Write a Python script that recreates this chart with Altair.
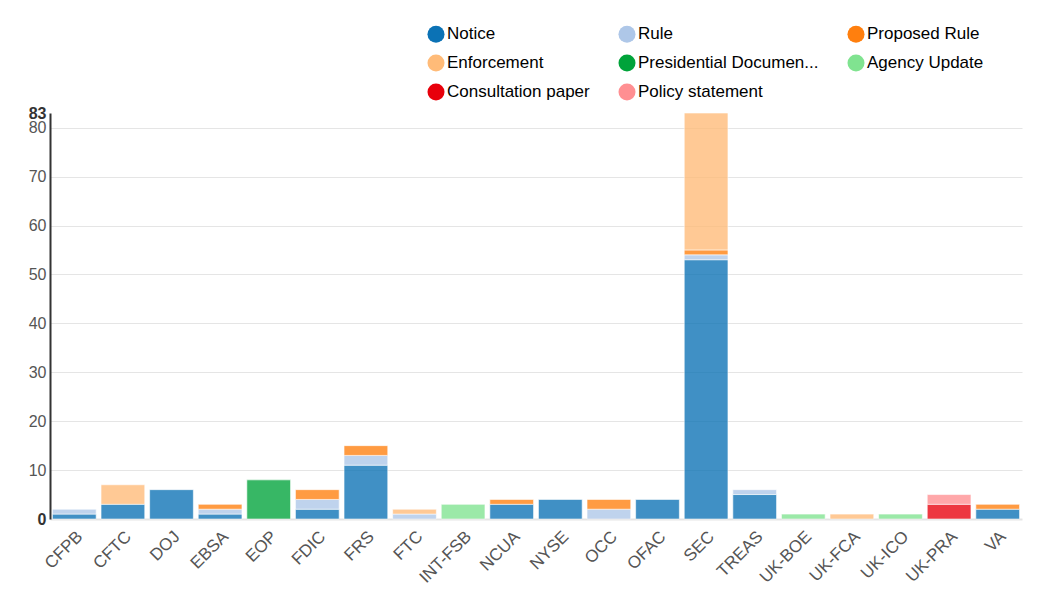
import altair as alt
import pandas as pd

agencies = ["CFPB", "CFTC", "DOJ", "EBSA", "EOP", "FDIC", "FRS", "FTC", "INT-FSB", "NCUA",
            "NYSE", "OCC", "OFAC", "SEC", "TREAS", "UK-BOE", "UK-FCA", "UK-ICO", "UK-PRA", "VA"]

types = ["Notice", "Rule", "Proposed Rule", "Enforcement", "Presidential Documents",
         "Agency Update", "Consultation paper", "Policy statement"]
colors = ["#0b72b5", "#aec7e8", "#ff7f0e", "#ffbb78", "#00a33a", "#80e390", "#e8000b", "#ff8f92"]

notice        = [1, 3, 6, 1, 0, 2, 11, 0, 0, 3, 4, 0, 4, 53, 5, 0, 0, 0, 0, 2]
rule          = [1, 0, 0, 1, 0, 2, 2, 1, 0, 0, 0, 2, 0, 1, 1, 0, 0, 0, 0, 0]
proposed_rule = [0, 0, 0, 1, 0, 2, 2, 0, 0, 1, 0, 2, 0, 1, 0, 0, 0, 0, 0, 1]
enforcement   = [0, 4, 0, 0, 0, 0, 0, 1, 0, 0, 0, 0, 0, 28, 0, 0, 1, 0, 0, 0]
presidential  = [0, 0, 0, 0, 8, 0, 0, 0, 0, 0, 0, 0, 0, 0, 0, 0, 0, 0, 0, 0]
agency_update = [0, 0, 0, 0, 0, 0, 0, 0, 3, 0, 0, 0, 0, 0, 0, 1, 0, 1, 0, 0]
consultation  = [0, 0, 0, 0, 0, 0, 0, 0, 0, 0, 0, 0, 0, 0, 0, 0, 0, 0, 3, 0]
policy        = [0, 0, 0, 0, 0, 0, 0, 0, 0, 0, 0, 0, 0, 0, 0, 0, 0, 0, 2, 0]

y_ticks = [0, 10, 20, 30, 40, 50, 60, 70, 80, 83]

series = [notice, rule, proposed_rule, enforcement, presidential, agency_update, consultation, policy]
rows = []
for ti, (t, vals) in enumerate(zip(types, series)):
    for a, v in zip(agencies, vals):
        if v > 0:
            rows.append({"agency": a, "type": t, "count": v, "order": ti})
df = pd.DataFrame(rows)

FONT = "Liberation Sans"

chart = alt.Chart(df).mark_bar(opacity=0.78, stroke="white", strokeWidth=1, strokeOpacity=0.6).encode(
    x=alt.X("agency:N", sort=agencies, title=None,
            scale=alt.Scale(paddingInner=0.1, paddingOuter=0.05),
            axis=alt.Axis(labelAngle=-45, labelAlign="right", labelBaseline="top",
                          labelFontSize=17, labelColor="#555555", labelFont=FONT,
                          labelPadding=9, ticks=False, domainColor="#e5e5e5",
                          domainWidth=2, grid=False, labelOverlap=False)),
    y=alt.Y("count:Q", stack="zero", title=None,
            scale=alt.Scale(domain=[0, 83], nice=False),
            axis=alt.Axis(values=y_ticks, labelFontSize=16, labelFont=FONT,
                          labelColor={"condition": {"test": "datum.value == 0 || datum.value == 83", "value": "#333333"}, "value": "#555555"},
                          labelFontWeight={"condition": {"test": "datum.value == 0 || datum.value == 83", "value": "bold"}, "value": "normal"},
                          gridColor={"condition": {"test": "datum.value == 83 || datum.value == 0", "value": "transparent"}, "value": "#e5e5e5"},
                          ticks=False, domainColor="#333333", domainWidth=2,
                          labelPadding=4, labelOverlap=False)),
    color=alt.Color("type:N", scale=alt.Scale(domain=types, range=colors),
                    legend=alt.Legend(title=None, orient="none", legendX=377, legendY=-88,
                                      direction="horizontal", columns=3,
                                      symbolType="circle", symbolSize=290, symbolOpacity=1,
                                      symbolStrokeWidth=0, labelFontSize=17, labelFont=FONT,
                                      labelColor="#000000", labelOffset=2,
                                      columnPadding=28, rowPadding=11, labelLimit=300,
                                      labelExpr="datum.label == 'Presidential Documents' ? 'Presidential Documen...' : datum.label")),
    order=alt.Order("order:Q", sort="ascending"),
).properties(
    width=972, height=406,
    autosize=alt.AutoSizeParams(type="none"),
    padding={"left": 42, "top": 105, "right": 23, "bottom": 70},
).configure_view(stroke=None)

chart.save("out.html", embed_options={"renderer": "svg", "actions": False})
